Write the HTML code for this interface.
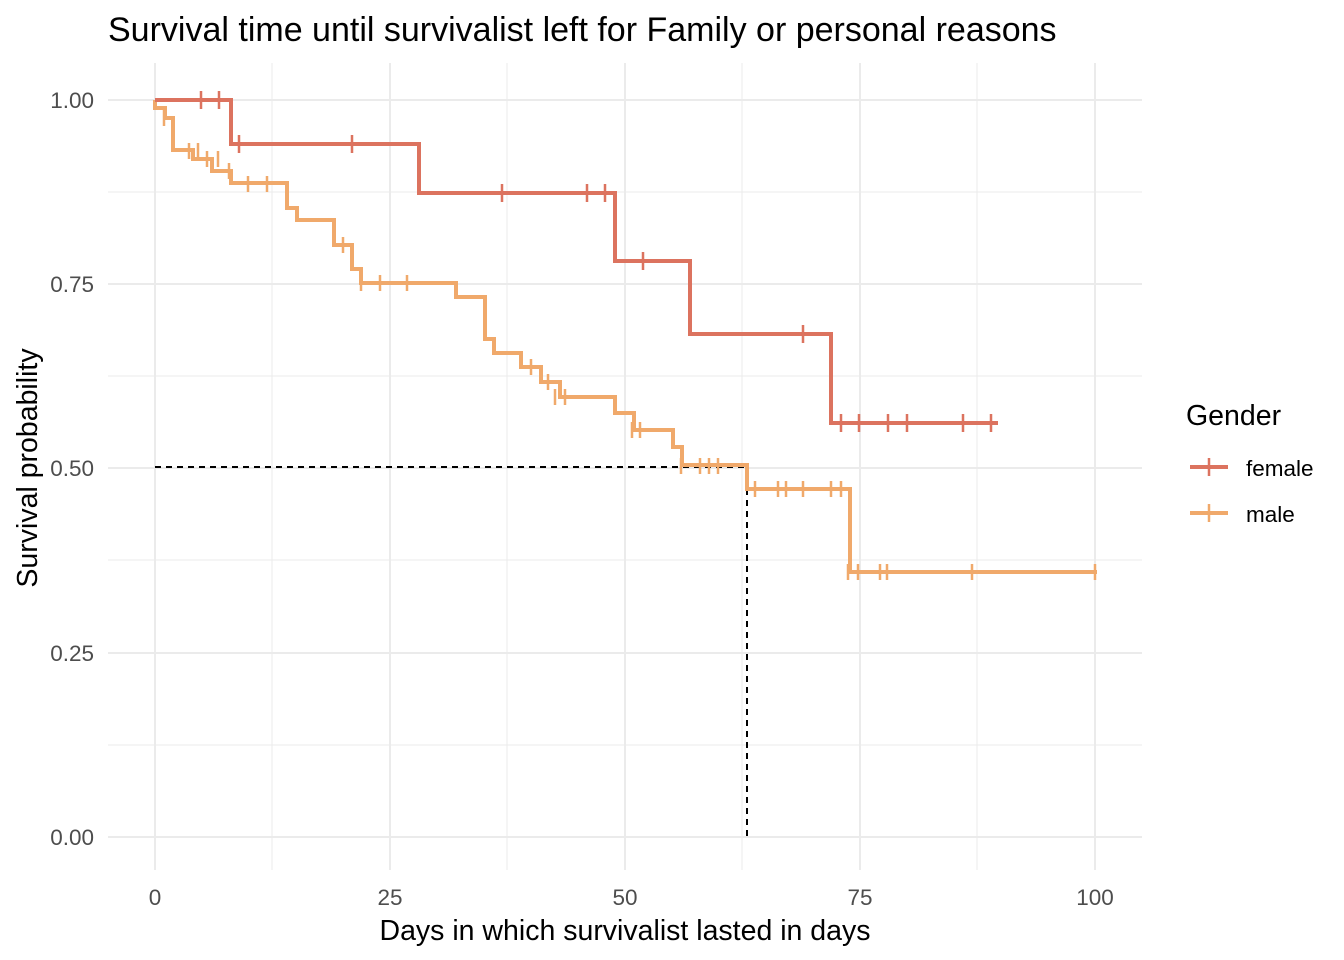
<!DOCTYPE html>
<html><head><meta charset="utf-8"><style>body{margin:0;background:#fff}svg{display:block;font-family:"Liberation Sans",Arial,sans-serif}</style></head><body>
<svg width="1344" height="960" viewBox="0 0 1344 960" xmlns="http://www.w3.org/2000/svg">
<rect width="1344" height="960" fill="#fff"/>
<g stroke="#ebebeb" stroke-width="1">
<line x1="108" x2="1142" y1="192" y2="192"/><line x1="108" x2="1142" y1="376" y2="376"/><line x1="108" x2="1142" y1="560" y2="560"/><line x1="108" x2="1142" y1="745" y2="745"/>
<line x1="272" x2="272" y1="63" y2="870"/><line x1="507" x2="507" y1="63" y2="870"/><line x1="742" x2="742" y1="63" y2="870"/><line x1="977" x2="977" y1="63" y2="870"/>
</g>
<g stroke="#ebebeb" stroke-width="2">
<line x1="108" x2="1142" y1="100" y2="100"/><line x1="108" x2="1142" y1="284" y2="284"/><line x1="108" x2="1142" y1="468" y2="468"/><line x1="108" x2="1142" y1="653" y2="653"/><line x1="108" x2="1142" y1="837" y2="837"/>
<line x1="155" x2="155" y1="63" y2="870"/><line x1="390" x2="390" y1="63" y2="870"/><line x1="625" x2="625" y1="63" y2="870"/><line x1="860" x2="860" y1="63" y2="870"/><line x1="1095" x2="1095" y1="63" y2="870"/>
</g>
<g stroke="#000" stroke-width="2" stroke-dasharray="6,5" fill="none">
<line x1="155" y1="467" x2="747" y2="467"/><line x1="747" y1="467" x2="747" y2="837"/>
</g>
<path fill="none" stroke="#f0a96b" stroke-width="4" d="M155,100 V108 H165 V118 H173 V150 H193 V159 H212 V171 H231 V183 H287 V208 H297 V220 H334 V245 H352 V269 H361 V283 H456 V297 H485 V339 H494 V353 H521 V367 H541 V382 H560 V397 H615 V413 H634 V430 H673 V447 H682 V465 H747 V489 H850 V572 H1097"/>
<g stroke="#f0a96b" stroke-width="2.5">
<path d="M164,110V126 M189,143V159 M198,143V159 M207,151V167 M218,151V167 M229,163V179 M248,176V192 M267,176V192 M343,237V253 M361,275V291 M380,275V291 M407,275V291 M531,359V375 M548,374V390 M555,389V405 M565,389V405 M632,422V438 M640,422V438 M681,458V474 M700,458V474 M709,458V474 M718,458V474 M755,481V497 M778,481V497 M786,481V497 M803,481V497 M831,481V497 M841,481V497 M848,564V580 M858,564V580 M880,564V580 M887,564V580 M972,564V580 M1095,564V580"/>
</g>
<path fill="none" stroke="#dc735f" stroke-width="4" d="M155,100 H231 V144 H419 V193 H615 V261 H690 V334 H831 V423 H998"/>
<g stroke="#dc735f" stroke-width="2.5">
<path d="M201,91V109 M219,91V109 M239,135V153 M352,135V153 M502,184V202 M587,184V202 M605,184V202 M643,252V270 M803,325V343 M841,414V432 M859,414V432 M888,414V432 M907,414V432 M963,414V432 M991,414V432"/>
</g>
<g font-size="22.5" fill="#4d4d4d" text-anchor="end">
<text x="94" y="108">1.00</text><text x="94" y="292">0.75</text><text x="94" y="476">0.50</text><text x="94" y="661">0.25</text><text x="94" y="845">0.00</text>
</g>
<g font-size="22.5" fill="#4d4d4d" text-anchor="middle">
<text x="155" y="905">0</text><text x="390" y="905">25</text><text x="625" y="905">50</text><text x="860" y="905">75</text><text x="1095" y="905">100</text>
</g>
<text x="625" y="940" font-size="28.5" text-anchor="middle" fill="#000">Days in which survivalist lasted in days</text>
<text transform="translate(37,468) rotate(-90)" font-size="28.5" text-anchor="middle" fill="#000">Survival probability</text>
<text x="108" y="41" font-size="34" fill="#000">Survival time until survivalist left for Family or personal reasons</text>
<text x="1186" y="425" font-size="28.5" fill="#000">Gender</text>
<line x1="1190" x2="1228" y1="467" y2="467" stroke="#dc735f" stroke-width="4"/><line x1="1209" x2="1209" y1="458" y2="476" stroke="#dc735f" stroke-width="2.5"/>
<line x1="1190" x2="1228" y1="513" y2="513" stroke="#f0a96b" stroke-width="4"/><line x1="1209" x2="1209" y1="504" y2="522" stroke="#f0a96b" stroke-width="2.5"/>
<text x="1246" y="476" font-size="22.5" fill="#000">female</text>
<text x="1246" y="522" font-size="22.5" fill="#000">male</text>
</svg>
</body></html>
